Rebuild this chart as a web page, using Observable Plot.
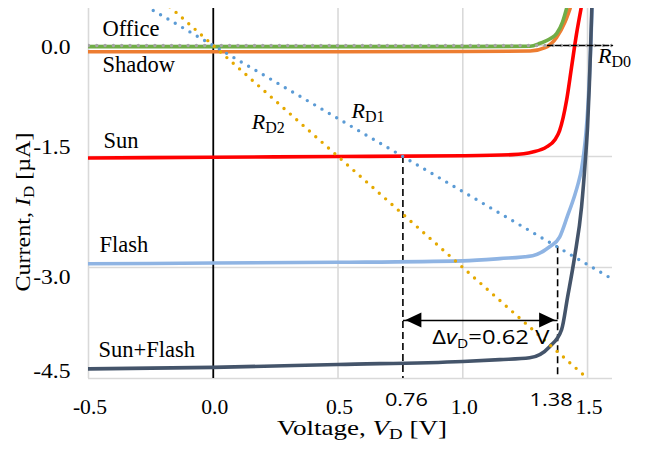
<!DOCTYPE html>
<html><head><meta charset="utf-8">
<script src="https://cdn.jsdelivr.net/npm/d3@7"></script>
<script src="https://cdn.jsdelivr.net/npm/@observablehq/plot@0.6"></script>
<style>body{margin:0;background:#fff} svg{display:block}</style>
</head><body><div id="chart"></div>
<script>
// ---- data ----
const xTicks = [-0.5, 0, 0.5, 1.0, 1.5];
const yTicks = [0, -1.5, -3.0, -4.5];
const xGrid = [-0.5, 0.5, 1.0, 1.5];
const markV = [0.76, 1.38];
const markLabels = ["0.76", "1.38"];
const dashTop = [-1.5, -2.72];
const arrowV = [0.76, 1.38];
const arrowI = -3.716;
const deltaLabel = "0.62 V";

const officeV = [-0.5, 0, 0.5, 1.0, 1.27, 1.31, 1.35, 1.376, 1.40, 1.416];
const officeI = [-0.015, -0.015, -0.015, -0.015, -0.01, 0.03, 0.09, 0.16, 0.32, 0.5];
const shadowV = [-0.5, 0, 0.5, 1.0, 1.27, 1.33, 1.376, 1.41, 1.43];
const shadowI = [-0.085, -0.085, -0.085, -0.082, -0.075, -0.03, 0.11, 0.32, 0.5];
const sunV = [-0.5, 0, 0.5, 1.0, 1.2, 1.28, 1.336, 1.37, 1.388, 1.416, 1.436, 1.456, 1.474];
const sunI = [-1.52, -1.51, -1.50, -1.49, -1.475, -1.44, -1.37, -1.27, -1.15, -0.74, -0.29, 0.16, 0.5];
const flashV = [-0.5, 0, 0.5, 1.0, 1.148, 1.28, 1.348, 1.388, 1.42, 1.448, 1.462, 1.476, 1.486, 1.494, 1.502, 1.508, 1.514, 1.518];
const flashI = [-2.95, -2.94, -2.93, -2.91, -2.88, -2.84, -2.72, -2.59, -2.30, -2.03, -1.87, -1.67, -1.43, -1.17, -0.8, -0.4, 0.1, 0.5];
const sunFlashV = [-0.5, 0, 0.5, 1.0, 1.148, 1.268, 1.348, 1.396, 1.42, 1.448, 1.476, 1.492, 1.50, 1.507, 1.512, 1.517];
const sunFlashI = [-4.37, -4.35, -4.31, -4.27, -4.245, -4.22, -4.07, -3.84, -3.40, -2.86, -2.18, -1.51, -1.1, -0.55, -0.05, 0.5];

const rd0V = [-0.5, 1.6], rd0I = [0, 0];
const rd0dashV = [1.34, 1.6];
const rd1V = [-0.27, 1.6], rd1I = [0.532, -3.158];
const rd2V = [-0.2, 1.52], rd2I = [0.6, -4.56];

const seriesNames = ["Office", "Shadow", "Sun", "Flash", "Sun+Flash"];
const seriesColors = ["#70AD47", "#ED7D31", "#FF0000", "#8FB4E3", "#44546A"];
const labelV = [-0.444, -0.444, -0.44, -0.456, -0.46];
const labelI = [0.135, -0.364, -1.388, -2.79, -4.205];

const rNames = ["D2", "D1", "D0"];
const rLabelV = [0.156, 0.556, 1.544];
const rLabelI = [-1.132, -0.984, -0.243];
const deltaV = 0.88, deltaI = -4.04;

// ---- build ----
const serif = "'Liberation Serif','Times New Roman',serif";
const sans = "'Open Sans','Liberation Sans',sans-serif";
const curves = [
  {V: shadowV, I: shadowI, c: seriesColors[1]},
  {V: officeV, I: officeI, c: seriesColors[0]},
  {V: sunV, I: sunI, c: seriesColors[2]},
  {V: flashV, I: flashI, c: seriesColors[3]},
  {V: sunFlashV, I: sunFlashI, c: seriesColors[4]}
];
const rows = (V, I) => V.map((v, k) => ({v, i: I[k]}));
const yOff = [2, -9, 10, -7];
const dotted = {strokeWidth: 3.4, strokeLinecap: "round", strokeDasharray: "0 8.5", clip: true};

const plot = Plot.plot({
  width: 646, height: 455,
  marginTop: 8, marginRight: 34, marginBottom: 77, marginLeft: 88,
  style: {fontFamily: serif, fontSize: "20px", color: "#000", background: "#fff"},
  x: {domain: [-0.5, 1.6]},
  y: {domain: [-4.5, 0.5]},
  marks: [
    Plot.ruleX(xGrid, {stroke: "#d9d9d9", strokeWidth: 1.6}),
    Plot.ruleY(yTicks, {stroke: "#d9d9d9", strokeWidth: 1.6}),
    Plot.ruleX([0], {stroke: "#000", strokeWidth: 1.8}),
    Plot.ruleX(markV, {x: d => d, y1: (d, k) => dashTop[k], y2: -4.5, stroke: "#000", strokeWidth: 1.6, strokeDasharray: "7 4"}),
    ...curves.map(s => Plot.line(rows(s.V, s.I), {x: "v", y: "i", stroke: s.c, strokeWidth: 3.6, curve: "monotone-x", clip: true})),
    Plot.line(rows(rd0V, rd0I), {x: "v", y: "i", stroke: "#A5A5A5", ...dotted, strokeDasharray: "0 8.3"}),
    Plot.line(rows(rd0dashV, rd0I), {x: "v", y: "i", stroke: "#000", strokeWidth: 1.4, strokeDasharray: "5 3"}),
    Plot.line(rows(rd1V, rd1I), {x: "v", y: "i", stroke: "#5B9BD5", ...dotted}),
    Plot.line(rows(rd2V, rd2I), {x: "v", y: "i", stroke: "#E5A900", ...dotted}),
    Plot.link([0], {x1: arrowV[0], x2: arrowV[1], y1: arrowI, y2: arrowI, stroke: "#000", strokeWidth: 1.6}),
    Plot.text(seriesNames, {x: (d, k) => labelV[k], y: (d, k) => labelI[k], text: d => d, textAnchor: "start", lineAnchor: "bottom", fontSize: 22.5, fill: "#000"}),
    Plot.axisX({ticks: xTicks, tickSize: 0, tickPadding: 21, dx: 1.5, tickFormat: d => d.toFixed(1), fontSize: 20, label: null}),
    Plot.text([markLabels[0]], {x: markV[0], frameAnchor: "bottom", dy: 27, dx: 3.5, lineAnchor: "bottom", text: d => d, fontFamily: sans, fontSize: 19}),
    Plot.text([markLabels[1]], {x: markV[1], frameAnchor: "bottom", dy: 27, dx: -6.5, lineAnchor: "bottom", text: d => d, fontFamily: sans, fontSize: 19}),
    ...yTicks.map((t, k) => Plot.axisY({ticks: [t], tickSize: 0, tickPadding: 18, dy: yOff[k], tickFormat: d => d.toFixed(1), fontSize: 20, label: null}))
  ]
});
document.getElementById("chart").appendChild(plot);

const sx = plot.scale("x"), sy = plot.scale("y");
const svg = d3.select(plot);

function stretch(node, factor, target) {
  const w = node.getComputedTextLength();
  node.setAttribute("textLength", target || w * factor);
  node.setAttribute("lengthAdjust", "spacingAndGlyphs");
}
svg.selectAll('g[aria-label="x-axis tick label"] text').each(function () { stretch(this, 1.08); });
svg.selectAll('g[aria-label="y-axis tick label"] text').each(function () { stretch(this, 1.18); });
svg.selectAll('g[aria-label="text"] text').each(function () {
  if (/^\d\.\d\d$/.test(this.textContent)) stretch(this, 1, 43);
});

// arrow heads
const ay = sy.apply(arrowI);
const hx0 = sx.apply(arrowV[0]) + 3, hx1 = sx.apply(arrowV[1]) - 2;
svg.append("path").attr("d", `M${hx0},${ay}L${hx0 + 16},${ay - 7.5}L${hx0 + 16},${ay + 7.5}Z`).attr("fill", "#000");
svg.append("path").attr("d", `M${hx1},${ay}L${hx1 - 16},${ay - 7.5}L${hx1 - 16},${ay + 7.5}Z`).attr("fill", "#000");

// rich text helper
function rich(x, y, parts, opts = {}) {
  const t = svg.append("text").attr("x", x).attr("y", y)
    .attr("font-family", opts.family || serif).attr("font-size", opts.size || 21)
    .attr("text-anchor", opts.anchor || "start").attr("fill", "#000");
  if (opts.rotate) t.attr("transform", `rotate(-90 ${x} ${y})`);
  let shift = 0;
  for (const p of parts) {
    const s = t.append("tspan").text(p.t);
    const target = p.sub ? (opts.subShift || 4) : 0;
    if (target !== shift) { s.attr("dy", target - shift); shift = target; }
    if (p.it) s.attr("font-style", "italic");
    if (p.sub) s.attr("font-size", opts.subSize || 15);
  }
  if (opts.width) stretch(t.node(), 1, opts.width);
  return t;
}

rNames.forEach((n, k) => {
  rich(sx.apply(rLabelV[k]), sy.apply(rLabelI[k]), [{t: "R", it: true}, {t: n, sub: true}], {size: 22, subSize: 16, subShift: 4});
});
rich(sx.apply(deltaV), sy.apply(deltaI), [{t: "Δ"}, {t: "v", it: true}, {t: "D", sub: true}, {t: "=" + deltaLabel}], {family: sans, size: 20, subSize: 13, subShift: 4, width: 117});
rich(362, 435, [{t: "Voltage, "}, {t: "V", it: true}, {t: "D", sub: true}, {t: " [V]"}], {anchor: "middle", size: 21.5, subSize: 15, width: 170});
rich(30, 212, [{t: "Current, "}, {t: "I", it: true}, {t: "D", sub: true}, {t: " [µA]"}], {anchor: "middle", size: 21.5, subSize: 15, rotate: true, width: 159});
</script>
</body></html>
